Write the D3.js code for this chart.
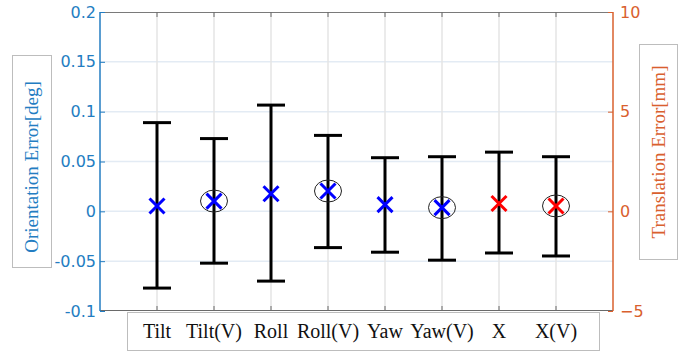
<!DOCTYPE html>
<html>
<head>
<meta charset="utf-8">
<script src="https://cdn.jsdelivr.net/npm/d3@7"></script>
<style>
  html, body { margin: 0; padding: 0; background: #fff; }
  svg { display: block; }
</style>
</head>
<body>
<svg id="chart"></svg>
<script>
// categories and error bar values (orientation in deg, translation in mm)
const categories = ['Tilt', 'Tilt(V)', 'Roll', 'Roll(V)', 'Yaw', 'Yaw(V)', 'X', 'X(V)'];
const axisSide = ['left', 'left', 'left', 'left', 'left', 'left', 'right', 'right'];
const means = [0.0053, 0.0103, 0.0177, 0.0204, 0.0067, 0.0037, 0.39, 0.27];
const lows = [-0.077, -0.052, -0.070, -0.0364, -0.041, -0.049, -2.09, -2.24];
const highs = [0.089, 0.073, 0.1066, 0.0762, 0.0538, 0.0548, 2.97, 2.74];
const circled = [false, true, false, true, false, true, false, true];
const leftTicks = [-0.1, -0.05, 0, 0.05, 0.1, 0.15, 0.2];
const rightTicks = [-5, 0, 5, 10];

const W = 697, H = 352;
const plot = { left: 100, right: 613, top: 12, bottom: 311 };
const blue = '#237dc2';
const orange = '#d9602e';

const svg = d3.select('#chart').attr('width', W).attr('height', H);

const x = d3.scaleLinear().domain([0, categories.length + 1]).range([plot.left, plot.right]);
const yL = d3.scaleLinear().domain([-0.1, 0.2]).range([plot.bottom, plot.top]);
const yR = d3.scaleLinear().domain([-5, 10]).range([plot.bottom, plot.top]);
const yOf = i => axisSide[i] === 'left' ? yL : yR;

const rows = categories.map((c, i) => ({ c, i, mean: means[i], lo: lows[i], hi: highs[i], circ: circled[i] }));

// grid
const grid = svg.append('g').attr('class', 'grid');
grid.selectAll('line.h')
    .data(leftTicks.slice(1, -1))
    .enter()
    .append('line')
        .attr('class', 'h')
        .attr('x1', plot.left).attr('x2', plot.right)
        .attr('y1', d => yL(d)).attr('y2', d => yL(d))
        .attr('stroke', '#e3ebf4')
        .attr('stroke-width', 1.5);
grid.selectAll('line.v')
    .data(rows)
    .enter()
    .append('line')
        .attr('class', 'v')
        .attr('x1', d => x(d.i + 1)).attr('x2', d => x(d.i + 1))
        .attr('y1', plot.top).attr('y2', plot.bottom)
        .attr('stroke', '#e4e4e4')
        .attr('stroke-width', 1.5);

// top and bottom frame lines
svg.append('line')
    .attr('x1', plot.left).attr('x2', plot.right)
    .attr('y1', plot.top + 0.5).attr('y2', plot.top + 0.5)
    .attr('stroke', '#7a7a7a');
svg.append('line')
    .attr('x1', plot.left).attr('x2', plot.right)
    .attr('y1', plot.bottom - 0.5).attr('y2', plot.bottom - 0.5)
    .attr('stroke', '#6a6a6a');

// small category ticks on frame
const xTicks = svg.append('g').attr('class', 'xticks');
rows.forEach(d => {
    xTicks.append('line')
        .attr('x1', x(d.i + 1)).attr('x2', x(d.i + 1))
        .attr('y1', plot.top).attr('y2', plot.top + 5)
        .attr('stroke', '#6a6a6a');
    xTicks.append('line')
        .attr('x1', x(d.i + 1)).attr('x2', x(d.i + 1))
        .attr('y1', plot.bottom).attr('y2', plot.bottom - 5)
        .attr('stroke', '#6a6a6a');
});

// left axis
const leftAxis = svg.append('g')
    .attr('transform', `translate(${plot.left},0)`)
    .call(d3.axisRight(yL).tickValues(leftTicks).tickFormat(d => String(d)).tickSize(5).tickPadding(-9));
leftAxis.select('.domain').attr('stroke', blue).attr('stroke-width', 1.5).attr('d', `M0,${plot.top}V${plot.bottom}`);
leftAxis.selectAll('.tick line').attr('stroke', blue);
leftAxis.selectAll('.tick text')
    .attr('text-anchor', 'end')
    .attr('fill', blue)
    .style('font-family', '"DejaVu Sans", sans-serif')
    .style('font-size', '16px');

// right axis
const rightAxis = svg.append('g')
    .attr('transform', `translate(${plot.right},0)`)
    .call(d3.axisLeft(yR).tickValues(rightTicks).tickSize(5).tickPadding(-12));
rightAxis.select('.domain').attr('stroke', orange).attr('stroke-width', 1.5).attr('d', `M0,${plot.top}V${plot.bottom}`);
rightAxis.selectAll('.tick line').attr('stroke', orange);
rightAxis.selectAll('.tick text')
    .attr('text-anchor', 'start')
    .attr('fill', orange)
    .style('font-family', '"DejaVu Sans", sans-serif')
    .style('font-size', '16px');

// error bars
const bars = svg.append('g').attr('class', 'bars');
const capW = 14;
bars.selectAll('line.stem')
    .data(rows)
    .enter()
    .append('line')
        .attr('class', 'stem')
        .attr('x1', d => x(d.i + 1)).attr('x2', d => x(d.i + 1))
        .attr('y1', d => yOf(d.i)(d.lo)).attr('y2', d => yOf(d.i)(d.hi))
        .attr('stroke', 'black')
        .attr('stroke-width', 3);
['lo', 'hi'].forEach(k => {
    bars.selectAll(`line.cap-${k}`)
        .data(rows)
        .enter()
        .append('line')
            .attr('class', `cap-${k}`)
            .attr('x1', d => x(d.i + 1) - capW).attr('x2', d => x(d.i + 1) + capW)
            .attr('y1', d => yOf(d.i)(d[k])).attr('y2', d => yOf(d.i)(d[k]))
            .attr('stroke', 'black')
            .attr('stroke-width', 3);
});

// circles around the (V) markers
bars.selectAll('ellipse')
    .data(rows.filter(d => d.circ))
    .enter()
    .append('ellipse')
        .attr('cx', d => x(d.i + 1))
        .attr('cy', d => yOf(d.i)(d.mean))
        .attr('rx', 13.5)
        .attr('ry', 11)
        .attr('fill', 'none')
        .attr('stroke', '#222')
        .attr('stroke-width', 1);

// x markers
const mk = 7.5;
const markers = bars.selectAll('g.marker')
    .data(rows)
    .enter()
    .append('g')
        .attr('class', 'marker')
        .attr('transform', d => `translate(${x(d.i + 1)},${yOf(d.i)(d.mean)})`)
        .attr('stroke', d => axisSide[d.i] === 'left' ? '#0000ff' : '#ff0000')
        .attr('stroke-width', 3);
markers.append('line').attr('x1', -mk).attr('y1', -mk).attr('x2', mk).attr('y2', mk);
markers.append('line').attr('x1', -mk).attr('y1', mk).attr('x2', mk).attr('y2', -mk);

// category label box
svg.append('rect')
    .attr('x', 127.5).attr('y', 312.5)
    .attr('width', 472).attr('height', 38)
    .attr('fill', 'white')
    .attr('stroke', '#bdbdbd');
svg.append('g')
    .selectAll('text')
    .data(rows)
    .enter()
    .append('text')
        .attr('x', d => x(d.i + 1))
        .attr('y', 337.5)
        .attr('text-anchor', 'middle')
        .style('font-family', '"Liberation Serif", "Times New Roman", serif')
        .style('font-size', '20px')
        .attr('fill', '#111')
        .text(d => d.c);

// y axis label boxes
svg.append('rect')
    .attr('x', 12.5).attr('y', 55.5).attr('width', 39).attr('height', 212)
    .attr('fill', 'white').attr('stroke', '#bdbdbd');
svg.append('text')
    .attr('transform', 'translate(38,167) rotate(-90)')
    .attr('text-anchor', 'middle')
    .style('font-family', '"Liberation Serif", "Times New Roman", serif')
    .style('font-size', '19px')
    .attr('fill', blue)
    .text('Orientation Error[deg]');

svg.append('rect')
    .attr('x', 639.5).attr('y', 44.5).attr('width', 38).attr('height', 215)
    .attr('fill', 'white').attr('stroke', '#bdbdbd');
svg.append('text')
    .attr('transform', 'translate(665,152) rotate(-90)')
    .attr('text-anchor', 'middle')
    .style('font-family', '"Liberation Serif", "Times New Roman", serif')
    .style('font-size', '19px')
    .attr('fill', orange)
    .text('Translation Error[mm]');
</script>
</body>
</html>
